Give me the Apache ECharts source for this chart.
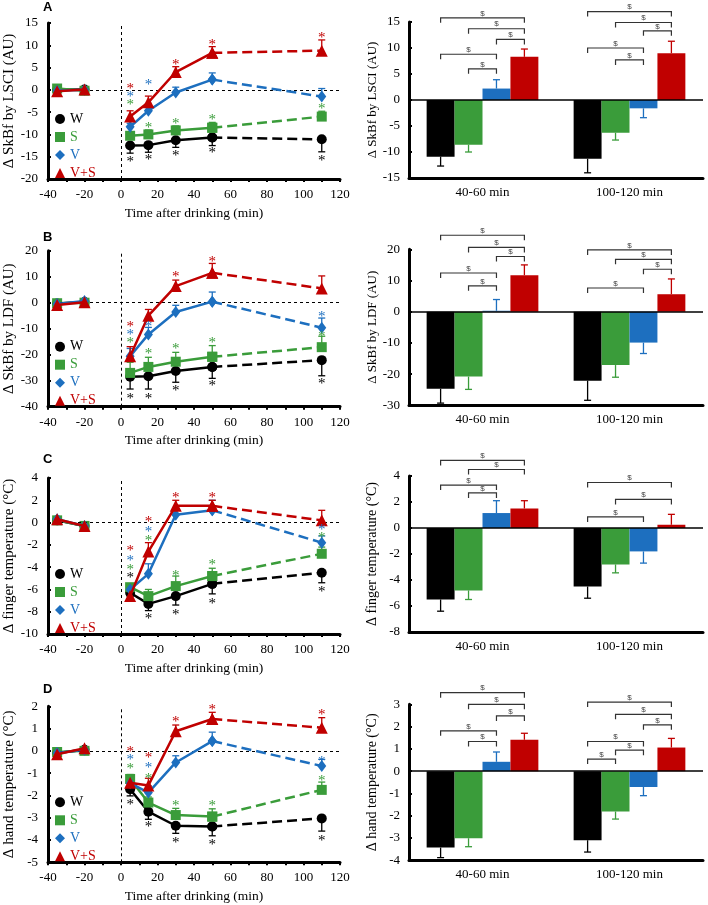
<!DOCTYPE html>
<html><head><meta charset="utf-8">
<script src="https://cdn.jsdelivr.net/npm/echarts@6/dist/echarts.min.js"></script>
<style>html,body{margin:0;padding:0;background:#fff}#c{width:708px;height:905px}</style>
</head><body><div id="c"></div>
<script>
// ---------- shared ----------
const times = [-35, -20, 5, 15, 30, 50, 110];
const groups = ['W', 'S', 'V', 'V+S'];
const barCategories = ['40-60 min', '100-120 min'];
const panelLetters = ['A', 'B', 'C', 'D'];
const yNames = ['Δ SkBf by LSCI (AU)', 'Δ SkBf by LDF (AU)', 'Δ finger temperature (°C)', 'Δ hand temperature (°C)'];
const xName = 'Time after drinking (min)';

// ---------- A: SkBf by LSCI ----------
const lsciW = [0.0, 0.1, -12.5, -12.4, -11.3, -10.7, -11.1];
const lsciWErr = [0, 0, 1.7, 1.6, 1.6, 1.8, 2.8];
const lsciS = [0.3, -0.2, -10.3, -10.0, -9.1, -8.5, -6.0];
const lsciSErr = [0, 0, 0.8, 1.0, 1.0, 1.2, 1.2];
const lsciV = [-0.2, 0.0, -8.3, -4.7, -0.6, 2.3, -1.5];
const lsciVErr = [0, 0, 0.8, 1.0, 1.2, 1.5, 1.8];
const lsciVS = [-0.3, 0.1, -6.0, -2.8, 4.0, 8.3, 8.8];
const lsciVSErr = [0, 0, 1.3, 1.4, 1.2, 1.4, 2.4];
const lsciStarsW = [[5, -15.6], [15, -15.0], [30, -14.1], [50, -13.6], [110, -15.2]];
const lsciStarsS = [[5, -2.8], [15, -7.9], [30, -7.1], [50, -6.0], [110, -3.6]];
const lsciStarsV = [[5, -1.0], [15, 1.8]];
const lsciStarsVS = [[5, 0.9], [30, 6.3], [50, 10.8], [110, 12.3]];
const lsciBarW = [-10.9, -11.3], lsciBarWErr = [1.8, 2.7];
const lsciBarS = [-8.6, -6.3], lsciBarSErr = [1.4, 1.4];
const lsciBarV = [2.2, -1.6], lsciBarVErr = [1.7, 1.8];
const lsciBarVS = [8.3, 9.0], lsciBarVSErr = [1.5, 2.3];
// [category, fromGroup, toGroup, level]
const lsciBrackets = [[0,0,3,15.8],[0,1,3,13.7],[0,2,3,11.65],[0,0,2,8.8],[0,1,2,6.0],
  [1,0,3,17.0],[1,1,3,14.9],[1,2,3,13.3],[1,0,2,10.0],[1,1,2,7.7]];

// ---------- B: SkBf by LDF ----------
const ldfW = [-0.3, 0.3, -28.5, -28.3, -26.3, -24.7, -22.1];
const ldfWErr = [0, 0, 4.7, 4.9, 4.3, 4.4, 6.0];
const ldfS = [-0.2, 0.0, -27.0, -24.7, -22.7, -20.8, -17.1];
const ldfSErr = [0, 0, 4.1, 3.7, 3.6, 4.3, 4.2];
const ldfV = [-0.5, 0.7, -20.6, -12.2, -3.6, 0.4, -9.6];
const ldfVErr = [0, 0, 3.0, 2.7, 2.6, 3.7, 3.7];
const ldfVS = [-0.9, 0.2, -20.6, -5.0, 6.4, 11.5, 5.5];
const ldfVSErr = [0, 0, 3.7, 2.4, 2.3, 3.6, 4.8];
const ldfStarsW = [[5, -35.8], [15, -35.8], [30, -33.0], [50, -31.0], [110, -30.0]];
const ldfStarsS = [[5, -14.4], [15, -18.6], [30, -16.5], [50, -14.4], [110, -12.0]];
const ldfStarsV = [[5, -11.3], [15, -8.2], [110, -4.5]];
const ldfStarsVS = [[5, -8.1], [30, 10.9], [50, 16.8]];
const ldfBarW = [-24.7, -22.1], ldfBarWErr = [4.6, 6.3];
const ldfBarS = [-20.8, -17.1], ldfBarSErr = [4.1, 3.9];
const ldfBarV = [0.3, -9.9], ldfBarVErr = [3.6, 3.5];
const ldfBarVS = [11.7, 5.6], ldfBarVSErr = [3.3, 4.9];
const ldfBrackets = [[0,0,3,24.5],[0,1,3,20.6],[0,2,3,17.7],[0,0,2,12.4],[0,1,2,8.3],
  [1,0,3,19.8],[1,1,3,16.8],[1,2,3,13.6],[1,0,2,7.6]];

// ---------- C: finger temperature ----------
const fingerW = [0.2, -0.3, -6.3, -7.3, -6.6, -5.5, -4.5];
const fingerWErr = [0, 0, 0.3, 0.6, 0.8, 0.9, 0.9];
const fingerS = [0.2, -0.3, -5.8, -6.6, -5.7, -4.8, -2.8];
const fingerSErr = [0, 0, 0.3, 0.6, 0.9, 0.7, 0.6];
const fingerV = [0.3, -0.3, -6.0, -4.6, 0.7, 1.1, -1.8];
const fingerVErr = [0, 0, 0.3, 0.9, 0.5, 0.9, 0.6];
const fingerVS = [0.3, -0.3, -6.6, -2.6, 1.5, 1.5, 0.2];
const fingerVSErr = [0, 0, 0.3, 0.8, 0.5, 0.5, 0.9];
const fingerStarsW = [[5, -4.7], [15, -8.4], [30, -8.0], [50, -7.0], [110, -6.0]];
const fingerStarsS = [[5, -4.0], [15, -1.4], [30, -4.5], [50, -3.5], [110, -1.1]];
const fingerStarsV = [[5, -3.2], [15, -0.6], [110, -0.4]];
const fingerStarsVS = [[5, -2.3], [15, 0.3], [30, 2.5], [50, 2.5]];
const fingerBarW = [-5.5, -4.5], fingerBarWErr = [0.9, 0.9];
const fingerBarS = [-4.8, -2.8], fingerBarSErr = [0.7, 0.65];
const fingerBarV = [1.15, -1.8], fingerBarVErr = [0.95, 0.9];
const fingerBarVS = [1.5, 0.25], fingerBarVSErr = [0.6, 0.8];
const fingerBrackets = [[0,0,3,5.2],[0,1,3,4.5],[0,0,2,3.3],[0,1,2,2.7],
  [1,0,3,3.5],[1,1,3,2.2],[1,0,2,0.85]];

// ---------- D: hand temperature ----------
const handW = [-0.1, 0.05, -1.72, -2.73, -3.36, -3.39, -3.03];
const handWErr = [0, 0, 0.3, 0.34, 0.34, 0.42, 0.57];
const handS = [-0.05, 0.0, -1.26, -2.32, -2.88, -2.95, -1.75];
const handSErr = [0, 0, 0.2, 0.25, 0.3, 0.35, 0.35];
const handV = [-0.1, 0.05, -1.45, -1.87, -0.52, 0.44, -0.68];
const handVErr = [0, 0, 0.2, 0.3, 0.3, 0.4, 0.3];
const handVS = [-0.15, 0.12, -1.43, -1.55, 0.88, 1.43, 1.04];
const handVSErr = [0, 0, 0.2, 0.32, 0.28, 0.3, 0.45];
const handStarsW = [[5, -2.3], [15, -3.3], [30, -4.0], [50, -4.1], [110, -3.9]];
const handStarsS = [[5, -0.7], [15, -1.15], [30, -2.35], [50, -2.35], [110, -1.2]];
const handStarsV = [[5, -0.3], [15, -0.65], [110, -0.35]];
const handStarsVS = [[5, 0.1], [15, -0.2], [30, 1.43], [50, 1.98], [110, 1.73]];
const handBarW = [-3.43, -3.1], handBarWErr = [0.45, 0.53];
const handBarS = [-3.01, -1.81], handBarSErr = [0.38, 0.34];
const handBarV = [0.42, -0.71], handBarVErr = [0.44, 0.39];
const handBarVS = [1.41, 1.06], handBarVSErr = [0.29, 0.41];
const handBrackets = [[0,0,3,3.52],[0,1,3,3.0],[0,2,3,2.48],[0,0,2,1.81],[0,1,2,1.33],
  [1,0,3,3.1],[1,1,3,2.55],[1,2,3,2.08],[1,0,2,1.33],[1,1,2,0.94],[1,0,1,0.54]];

// ---------- styling ----------
const colors = ['#000000', '#3a9c3a', '#1d6fbf', '#c00000'];
const symbols = ['circle', 'rect', 'diamond', 'triangle'];
const symbolSizes = [10, 10, [9, 12], 12];
const errDir = [-1, 1, 1, 1];
const serif = "'Liberation Serif', 'Times New Roman', serif";
const BAR_FRAC = 0.19;
const leftNameSize = 15;
const rightNameSizes = [13, 13, 14, 14];

const panels = [
  { vals: [lsciW, lsciS, lsciV, lsciVS], errs: [lsciWErr, lsciSErr, lsciVErr, lsciVSErr],
    stars: [lsciStarsW, lsciStarsS, lsciStarsV, lsciStarsVS],
    bars: [lsciBarW, lsciBarS, lsciBarV, lsciBarVS], barErrs: [lsciBarWErr, lsciBarSErr, lsciBarVErr, lsciBarVSErr],
    brackets: lsciBrackets, lMin: -20, lMax: 15, lStep: 5, rMin: -15, rMax: 15, rStep: 5 },
  { vals: [ldfW, ldfS, ldfV, ldfVS], errs: [ldfWErr, ldfSErr, ldfVErr, ldfVSErr],
    stars: [ldfStarsW, ldfStarsS, ldfStarsV, ldfStarsVS],
    bars: [ldfBarW, ldfBarS, ldfBarV, ldfBarVS], barErrs: [ldfBarWErr, ldfBarSErr, ldfBarVErr, ldfBarVSErr],
    brackets: ldfBrackets, lMin: -40, lMax: 20, lStep: 10, rMin: -30, rMax: 20, rStep: 10 },
  { vals: [fingerW, fingerS, fingerV, fingerVS], errs: [fingerWErr, fingerSErr, fingerVErr, fingerVSErr],
    stars: [fingerStarsW, fingerStarsS, fingerStarsV, fingerStarsVS],
    bars: [fingerBarW, fingerBarS, fingerBarV, fingerBarVS], barErrs: [fingerBarWErr, fingerBarSErr, fingerBarVErr, fingerBarVSErr],
    brackets: fingerBrackets, lMin: -10, lMax: 4, lStep: 2, rMin: -8, rMax: 4, rStep: 2 },
  { vals: [handW, handS, handV, handVS], errs: [handWErr, handSErr, handVErr, handVSErr],
    stars: [handStarsW, handStarsS, handStarsV, handStarsVS],
    bars: [handBarW, handBarS, handBarV, handBarVS], barErrs: [handBarWErr, handBarSErr, handBarVErr, handBarVSErr],
    brackets: handBrackets, lMin: -5, lMax: 2, lStep: 1, rMin: -4, rMax: 3, rStep: 1 }
];

const leftTops = [23, 250.7, 478, 706.3];
const rightTops = [22, 249.3, 476, 704.3];
const letterTops = [1, 231, 453, 683];

const grids = [], xAxes = [], yAxes = [], series = [], legends = [], titles = [];

function axisLabelStyle(margin) {
  return { fontFamily: serif, fontSize: 13, color: '#000', margin: margin };
}
function axisNameStyle(size) {
  return { fontFamily: serif, fontSize: size, color: '#000' };
}

function lineErrRender(dir, color) {
  return function (params, api) {
    const t = api.value(0), v = api.value(1), e = api.value(2);
    const p0 = api.coord([t, v]), p1 = api.coord([t, v + dir * e]);
    const cap = 3.5;
    return { type: 'group', children: [
      { type: 'line', shape: { x1: p0[0], y1: p0[1], x2: p1[0], y2: p1[1] }, style: { stroke: color, lineWidth: 1.3 } },
      { type: 'line', shape: { x1: p1[0] - cap, y1: p1[1], x2: p1[0] + cap, y2: p1[1] }, style: { stroke: color, lineWidth: 1.3 } }
    ] };
  };
}
function starRender(color) {
  return function (params, api) {
    const p = api.coord([api.value(0), api.value(1)]);
    return { type: 'text', x: p[0], y: p[1] + 3,
      style: { text: '*', fill: color, fontSize: 15, fontFamily: serif, align: 'center', verticalAlign: 'middle' } };
  };
}
function barErrRender(g, color) {
  return function (params, api) {
    const c = api.value(0), v = api.value(1), e = api.value(2);
    const bw = api.size([1, 0])[0] * BAR_FRAC;
    const x = api.coord([c, 0])[0] + (g - 1.5) * bw;
    const dir = v >= 0 ? 1 : -1;
    const y0 = api.coord([c, v])[1], y1 = api.coord([c, v + dir * e])[1];
    const cap = 3.5;
    return { type: 'group', children: [
      { type: 'line', shape: { x1: x, y1: y0, x2: x, y2: y1 }, style: { stroke: color, lineWidth: 1.3 } },
      { type: 'line', shape: { x1: x - cap, y1: y1, x2: x + cap, y2: y1 }, style: { stroke: color, lineWidth: 1.3 } }
    ] };
  };
}
function bracketRender(params, api) {
  const c = api.value(0), a = api.value(1), b = api.value(2), lvl = api.value(3);
  const bw = api.size([1, 0])[0] * BAR_FRAC;
  const cx = api.coord([c, 0])[0];
  const x1 = cx + (a - 1.5) * bw, x2 = cx + (b - 1.5) * bw;
  const y = api.coord([c, lvl])[1];
  const st = { stroke: '#333', lineWidth: 1.2 };
  return { type: 'group', children: [
    { type: 'polyline', shape: { points: [[x1, y + 5], [x1, y], [x2, y], [x2, y + 5]] }, style: Object.assign({ fill: null }, st) },
    { type: 'text', x: (x1 + x2) / 2, y: y - 0.5, style: { text: '$', fill: '#444', fontSize: 8, fontFamily: "'Liberation Sans', sans-serif", align: 'center', verticalAlign: 'bottom' } }
  ] };
}

panels.forEach((P, p) => {
  const gl = 2 * p, gr = 2 * p + 1;
  grids.push({ left: 48, top: leftTops[p], width: 292, height: 156 });
  grids.push({ left: 409, top: rightTops[p], width: 294, height: 156 });

  titles.push({ text: panelLetters[p], left: 43, top: letterTops[p], padding: 0,
    textStyle: { fontSize: 13, fontWeight: 'bold', fontFamily: "'Liberation Sans', Arial, sans-serif", color: '#000' } });

  // left axes
  xAxes.push({ type: 'value', gridIndex: gl, min: -40, max: 120, interval: 10,
    axisLine: { onZero: false, lineStyle: { color: '#000', width: 3 } },
    axisTick: { show: true, length: 3, lineStyle: { color: '#000', width: 2 } },
    axisLabel: Object.assign(axisLabelStyle(9), { formatter: v => (v % 20 === 0 ? String(v) : '') }),
    splitLine: { show: false },
    name: xName, nameLocation: 'middle', nameGap: 27, nameTextStyle: axisNameStyle(13.5) });
  yAxes.push({ type: 'value', gridIndex: gl, min: P.lMin, max: P.lMax, interval: P.lStep,
    axisLine: { show: true, onZero: false, lineStyle: { color: '#000', width: 3 } },
    axisTick: { show: true, inside: true, length: 3, lineStyle: { color: '#000', width: 2 } },
    axisLabel: axisLabelStyle(10), splitLine: { show: false },
    name: yNames[p], nameLocation: 'middle', nameGap: 31, nameRotate: 90, nameTextStyle: axisNameStyle(leftNameSize) });
  // right axes
  xAxes.push({ type: 'category', gridIndex: gr, data: barCategories,
    axisLine: { onZero: false, lineStyle: { color: '#000', width: 3 } },
    axisTick: { show: false }, axisLabel: axisLabelStyle(8), splitLine: { show: false } });
  yAxes.push({ type: 'value', gridIndex: gr, min: P.rMin, max: P.rMax, interval: P.rStep,
    axisLine: { show: true, onZero: false, lineStyle: { color: '#000', width: 3 } },
    axisTick: { show: true, inside: true, length: 3, lineStyle: { color: '#000', width: 2 } },
    axisLabel: axisLabelStyle(9), splitLine: { show: false },
    name: yNames[p], nameLocation: 'middle', nameGap: 30, nameRotate: 90, nameTextStyle: axisNameStyle(rightNameSizes[p]) });

  // reference dashed lines (left)
  series.push({ type: 'line', xAxisIndex: gl, yAxisIndex: gl, data: [], silent: true, z: 1,
    markLine: { silent: true, symbol: 'none', label: { show: false }, animation: false,
      lineStyle: { type: [3, 3], color: '#000', width: 1 },
      data: [{ xAxis: 0 }, { yAxis: 0 }] } });

  groups.forEach((g, gi) => {
    const col = colors[gi];
    const pts = times.map((t, i) => [t, P.vals[gi][i]]);
    const base = { type: 'line', xAxisIndex: gl, yAxisIndex: gl, color: col, symbol: symbols[gi],
      symbolSize: symbolSizes[gi], showSymbol: true, itemStyle: { color: col }, z: 3 + gi, animation: false };
    series.push(Object.assign({}, base, { name: g + ' baseline', data: pts.slice(0, 2), lineStyle: { color: col, width: 2.5 } }));
    series.push(Object.assign({}, base, { name: g, data: pts.slice(2, 6), lineStyle: { color: col, width: 2.5 } }));
    series.push(Object.assign({}, base, { name: g + ' late', data: pts.slice(5, 7), lineStyle: { color: col, width: 2.5, type: [10, 5] } }));
    series.push({ type: 'custom', name: g + ' err', xAxisIndex: gl, yAxisIndex: gl, z: 2,
      renderItem: lineErrRender(errDir[gi], col), encode: { x: 0, y: 1 },
      data: times.map((t, i) => [t, P.vals[gi][i], P.errs[gi][i]]).filter(d => d[2] > 0) });
    series.push({ type: 'custom', name: g + ' sig', xAxisIndex: gl, yAxisIndex: gl, z: 8, clip: false,
      renderItem: starRender(col), encode: { x: 0, y: 1 }, data: P.stars[gi] });

    // bars
    series.push({ type: 'bar', name: g + ' bar', xAxisIndex: gr, yAxisIndex: gr, data: P.bars[gi],
      barWidth: (BAR_FRAC * 100) + '%', barGap: '0%', itemStyle: { color: col }, z: 2, animation: false,
      markLine: gi === 0 ? { silent: true, symbol: 'none', label: { show: false }, animation: false,
        lineStyle: { type: 'solid', color: '#000', width: 1.5 }, data: [{ yAxis: 0 }] } : undefined });
    series.push({ type: 'custom', name: g + ' bar err', xAxisIndex: gr, yAxisIndex: gr, z: 3,
      renderItem: barErrRender(gi, col), encode: { x: 0, y: 1 },
      data: P.bars[gi].map((v, c) => [c, v, P.barErrs[gi][c]]) });
  });
  series.push({ type: 'custom', name: 'brackets', xAxisIndex: gr, yAxisIndex: gr, z: 5, clip: false,
    renderItem: bracketRender, encode: { x: 0, y: 3 }, data: P.brackets });

  legends.push({ left: 50, top: leftTops[p] + 84, orient: 'vertical', itemWidth: 10, itemHeight: 10, itemGap: 4,
    selectedMode: false, textStyle: { fontFamily: serif, fontSize: 14 },
    data: groups.map((g, gi) => ({ name: g, icon: symbols[gi], itemStyle: { color: colors[gi] }, textStyle: { color: colors[gi] } })) });
});

const chart = echarts.init(document.getElementById('c'), null, { renderer: 'canvas' });
chart.setOption({ backgroundColor: '#fff', animation: false, title: titles, legend: legends,
  grid: grids, xAxis: xAxes, yAxis: yAxes, series: series });
</script></body></html>
